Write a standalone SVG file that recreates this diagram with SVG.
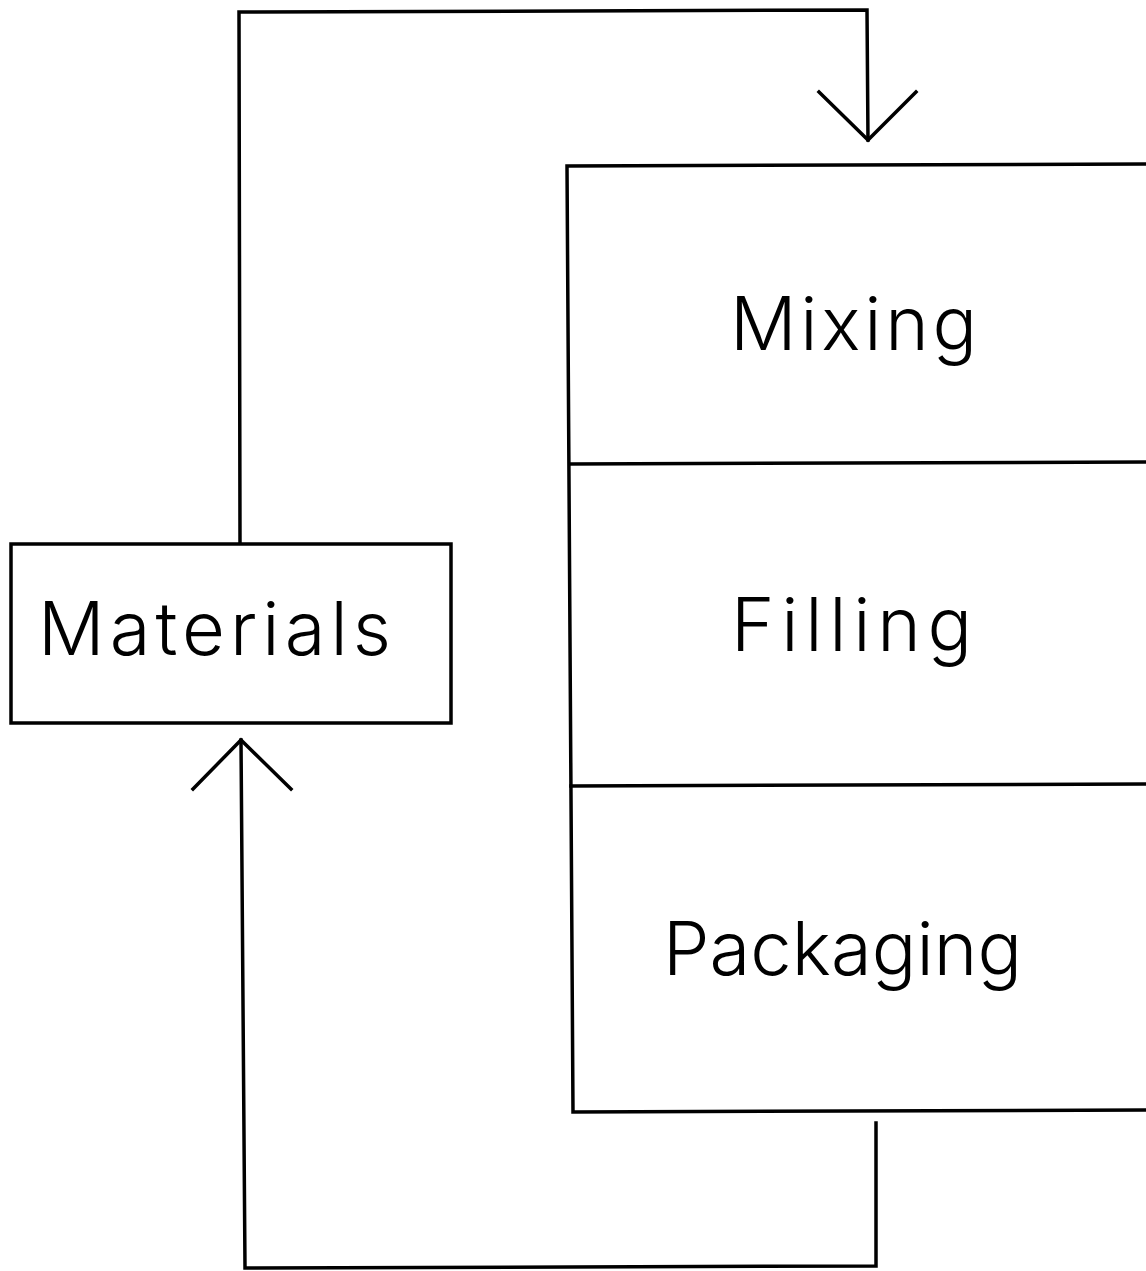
<svg xmlns="http://www.w3.org/2000/svg" width="1146" height="1271" viewBox="0 0 1146 1271">
<style>
.ln{fill:none;stroke:#000;stroke-width:3.5;stroke-linejoin:miter;stroke-linecap:square}
.lbl{font-family:Inter,"Liberation Sans","DejaVu Sans",sans-serif;font-weight:300;font-size:74px;fill:#000}
</style>
<rect width="1146" height="1271" fill="#fff"/>
<g id="connectors">
<path class="ln" d="M240,543 L239,12 L867,10 L868,140"/>
<path class="ln" d="M819,92 L868,140 L916,92"/>
<path class="ln" d="M193,789 L241,740 L291,789"/>
<path class="ln" d="M241,740 L245,1268 L876,1266 L876,1123"/>
</g>
<g id="process">
<path class="ln" d="M1150,164 L567,166 L573,1112 L1150,1110"/>
<g id="mixing">
<text class="lbl" x="730" y="350" textLength="247" lengthAdjust="spacing">Mixing</text>
</g>
<g id="filling">
<path class="ln" d="M570,464 L1150,462"/>
<text class="lbl" x="731" y="651" textLength="241" lengthAdjust="spacing">Filling</text>
</g>
<g id="packaging">
<path class="ln" d="M571,786 L1150,784"/>
<text class="lbl" x="663" y="975" textLength="359" lengthAdjust="spacing">Packaging</text>
</g>
</g>
<g id="materials">
<rect class="ln" x="11" y="544" width="440" height="179"/>
<text class="lbl" x="38" y="655" textLength="353" lengthAdjust="spacing">Materials</text>
</g>
</svg>
